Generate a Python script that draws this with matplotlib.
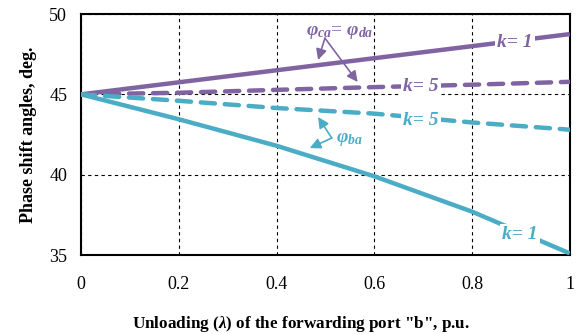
import numpy as np
import matplotlib.pyplot as plt

plt.rcParams['font.family'] = ['Liberation Serif', 'DejaVu Serif']
plt.rcParams['mathtext.fontset'] = 'custom'
plt.rcParams['mathtext.rm'] = 'Liberation Serif:weight=bold'
plt.rcParams['mathtext.it'] = 'Liberation Serif:style=italic:weight=bold'
plt.rcParams['mathtext.bf'] = 'Liberation Serif:weight=bold'

# unloading of port "b"
lam = [0, 0.2, 0.4, 0.6, 0.8, 1.0]

# phase shift angles, deg.
ca_k1 = [45, 45.75, 46.5, 47.25, 48.0, 48.75]
ca_k5 = [45, 45.1, 45.28, 45.45, 45.6, 45.78]
ba_k5 = [45, 44.6, 44.15, 43.8, 43.25, 42.8]
ba_k1 = [45, 43.45, 41.8, 39.9, 37.7, 35.1]

xticks = [0, 0.2, 0.4, 0.6, 0.8, 1]
xtick_labels = ['0', '0.2', '0.4', '0.6', '0.8', '1']
yticks = [35, 40, 45, 50]

purple = '#8064a2'
cyan = '#4bacc6'

fig = plt.figure(figsize=(5.85, 3.34), dpi=100)
ax = fig.add_axes([0.1385, 0.2365, 0.8355, 0.7215])

ax.plot(lam, ca_k1, color=purple, lw=3.2, solid_capstyle='butt', zorder=3)
ax.plot(lam, ca_k5, color=purple, lw=3.2, dashes=(3.2, 2.2), dash_capstyle='round', zorder=3)
ax.plot(lam, ba_k5, color=cyan, lw=3.2, dashes=(3.2, 2.2), dash_capstyle='round', zorder=3)
ax.plot(lam, ba_k1, color=cyan, lw=3.2, solid_capstyle='butt', zorder=3)

ax.set_xlim(0, 1)
ax.set_ylim(35, 50)
ax.set_xticks(xticks)
ax.set_xticklabels(xtick_labels)
ax.set_yticks(yticks)
ax.grid(True, color='black', ls=(0, (3, 3)), lw=0.8)
ax.tick_params(length=0, labelsize=13)
ax.tick_params(axis='x', pad=15)
ax.tick_params(axis='y', pad=10)
for s in ax.spines.values():
    s.set_linewidth(1.5)

ax.set_xlabel('Unloading ($\\lambda$) of the forwarding port "b", p.u.',
              fontsize=12.3, fontweight='bold')
ax.xaxis.set_label_coords(0.45, -0.245)
ax.set_ylabel('Phase shift angles, deg.', fontsize=13, fontweight='bold', labelpad=9)

box = dict(facecolor='white', edgecolor='none', pad=1.5)
tkw = dict(fontsize=14, fontweight='bold', style='italic', ha='center', va='center', zorder=4, bbox=box)
ax.text(0.888, 48.25, 'k= 1', color=purple, **tkw)
ax.text(0.695, 45.47, 'k= 5', color=purple, **tkw)
ax.text(0.695, 43.4, 'k= 5', color=cyan, **tkw)
ax.text(0.898, 36.25, 'k= 1', color=cyan, **tkw)

ax.text(0.53, 48.82, '$\\varphi_{ca}$= $\\varphi_{da}$', color=purple, fontsize=14,
        ha='center', va='center', zorder=5)
ax.text(0.55, 42.16, '$\\varphi_{ba}$', color=cyan, fontsize=14,
        ha='center', va='center', zorder=5)

akw = dict(arrowstyle='-|>', lw=1.2, mutation_scale=16, shrinkA=0, shrinkB=0)
ax.annotate('', xy=(0.485, 47.14), xytext=(0.499, 48.5),
            arrowprops=dict(color=purple, **akw), zorder=5)
ax.annotate('', xy=(0.566, 45.77), xytext=(0.499, 48.5),
            arrowprops=dict(color=purple, **akw), zorder=5)
ax.annotate('', xy=(0.485, 43.59), xytext=(0.513, 42.28),
            arrowprops=dict(color=cyan, **akw), zorder=5)
ax.annotate('', xy=(0.468, 41.66), xytext=(0.513, 42.28),
            arrowprops=dict(color=cyan, **akw), zorder=5)

fig.savefig('out.png', dpi=100)
